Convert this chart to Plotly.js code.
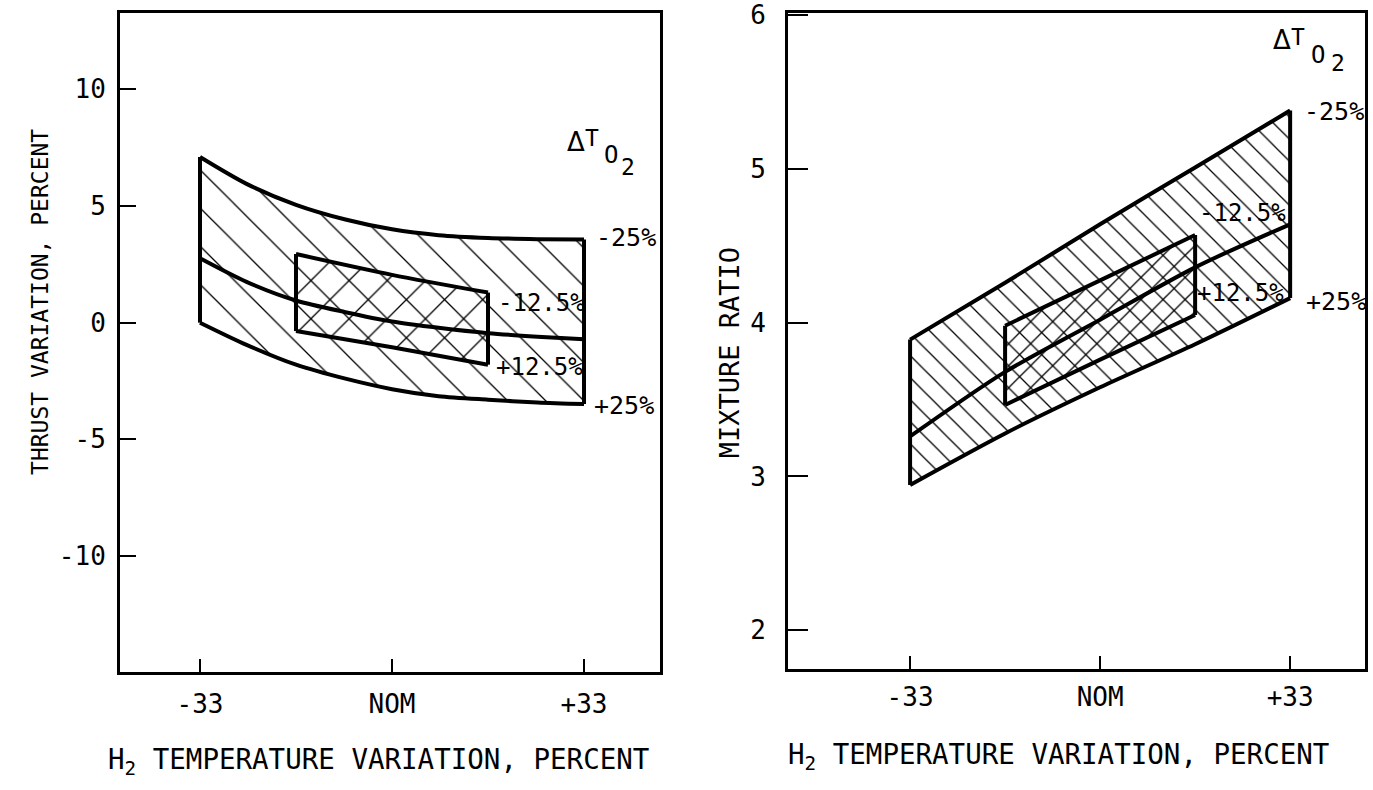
<!DOCTYPE html>
<html>
<head>
<meta charset="utf-8">
<script src="https://cdn.plot.ly/plotly-3.0.1.min.js"></script>
<style>html,body{margin:0;padding:0;background:#fff;}</style>
</head>
<body>
<div id="chart" style="width:1373px;height:790px;"></div>
<script>
// H2 temperature variation, percent (NOM = 0)
const h2Temp = [-33, -25, -16.5, -8, 0, 8, 16.5, 25, 33];
const h2TickVals = [-33, 0, 33];
const h2TickText = ['-33', 'NOM', '+33'];

// Thrust variation, percent, for O2 temperature variation of -25 %, nominal and +25 %
const thrustO2Minus25 = [7.1, 5.95, 5.05, 4.42, 4.0, 3.75, 3.63, 3.58, 3.56];
const thrustO2Nominal = [2.76, 1.75, 0.95, 0.45, 0.05, -0.22, -0.45, -0.6, -0.71];
const thrustO2Plus25 = [0.0, -0.95, -1.8, -2.4, -2.85, -3.15, -3.3, -3.42, -3.49];

// Inner region: H2 temperature within +/-16.5 %, O2 temperature within +/-12.5 %
const h2TempInner = [-16.5, 0, 16.5];
const thrustO2Minus12 = [2.94, 2.05, 1.29];
const thrustO2Plus12 = [-0.36, -1.05, -1.8];

// Mixture ratio
const h2TempMr = [-33, -16.5, 0, 16.5, 33];
const mrO2Minus25 = [3.89, 4.26, 4.64, 5.01, 5.38];
const mrO2Nominal = [3.26, 3.68, 4.02, 4.36, 4.64];
const mrO2Plus25 = [2.945, 3.28, 3.58, 3.86, 4.16];
const mrO2Minus12 = [3.98, 4.275, 4.57];
const mrO2Plus12 = [3.465, 3.76, 4.05];

const thrustTicks = [-10, -5, 0, 5, 10];
const mrTicks = [2, 3, 4, 5, 6];

const FONT = 'DejaVu Sans Mono, Liberation Mono, monospace';
const SYMBOL_FONT = 'DejaVu Sans, sans-serif';
const INK = '#000';
const LINE_W = 4;

// hatched area between two curves (outline drawn separately)
function hatch(x, upper, lower, xa, ya, shape, size) {
  const xr = x.slice().reverse();
  const lr = lower.slice().reverse();
  return {
    x: x.concat(xr, [x[0]]), y: upper.concat(lr, [upper[0]]),
    xaxis: xa, yaxis: ya, mode: 'lines', fill: 'toself',
    fillcolor: 'rgba(0,0,0,0)',
    fillpattern: {shape: shape, size: size, solidity: 1.3 / size, fgcolor: INK},
    line: {width: 0, color: 'rgba(0,0,0,0)'},
    hoverinfo: 'skip'
  };
}

function curve(x, y, xa, ya, smooth) {
  return {x: x, y: y, xaxis: xa, yaxis: ya, mode: 'lines',
    line: {color: INK, width: LINE_W, shape: smooth ? 'spline' : 'linear', smoothing: 0.8},
    hoverinfo: 'skip'};
}

// outline of a region: both curves plus the two end edges
function outline(x, upper, lower, xa, ya, smooth) {
  const n = x.length - 1;
  return [
    curve(x, upper, xa, ya, smooth),
    curve(x, lower, xa, ya, smooth),
    curve([x[0], x[0]], [upper[0], lower[0]], xa, ya, false),
    curve([x[n], x[n]], [upper[n], lower[n]], xa, ya, false)
  ];
}

const traces = [].concat(
  [hatch(h2Temp, thrustO2Minus25, thrustO2Plus25, 'x', 'y', '\\', 27),
   hatch(h2TempInner, thrustO2Minus12, thrustO2Plus12, 'x', 'y', '/', 27)],
  outline(h2Temp, thrustO2Minus25, thrustO2Plus25, 'x', 'y', true),
  outline(h2TempInner, thrustO2Minus12, thrustO2Plus12, 'x', 'y', true),
  [curve(h2Temp, thrustO2Nominal, 'x', 'y', true)],
  [hatch(h2TempMr, mrO2Minus25, mrO2Plus25, 'x2', 'y2', '\\', 15.6),
   hatch(h2TempInner, mrO2Minus12, mrO2Plus12, 'x2', 'y2', '/', 15.6)],
  outline(h2TempMr, mrO2Minus25, mrO2Plus25, 'x2', 'y2', true),
  outline(h2TempInner, mrO2Minus12, mrO2Plus12, 'x2', 'y2', true),
  [curve(h2TempMr, mrO2Nominal, 'x2', 'y2', true)]
);

const tickFont = {family: FONT, size: 26, color: INK};

function xAxis(domain, range, anchor, standoff) {
  return {
    domain: domain, range: range, anchor: anchor,
    tickvals: h2TickVals, ticktext: h2TickText,
    ticks: 'inside', ticklen: 13, tickwidth: 2, tickcolor: INK,
    tickfont: tickFont, ticklabelstandoff: standoff,
    showline: true, mirror: true, linewidth: 3, linecolor: INK,
    showgrid: false, zeroline: false, fixedrange: true
  };
}

function yAxis(domain, range, anchor, ticks, ticklen, standoff) {
  return {
    domain: domain, range: range, anchor: anchor,
    tickvals: ticks, ticktext: ticks.map(String),
    ticks: 'inside', ticklen: ticklen, tickwidth: 2, tickcolor: INK,
    tickfont: tickFont, ticklabelstandoff: standoff,
    showline: true, mirror: true, linewidth: 3, linecolor: INK,
    showgrid: false, zeroline: false, fixedrange: true
  };
}

function label(text, x, y, xa, ya, size, family) {
  return {
    text: text, x: x, y: y, xref: xa, yref: ya,
    xanchor: 'left', yanchor: 'middle', showarrow: false,
    font: {family: family || FONT, size: size || 25, color: INK},
    borderpad: 0
  };
}

function axisTitle(text, x, y, size, angle) {
  return {
    text: text, x: x, y: y, xref: 'paper', yref: 'paper',
    xanchor: 'center', yanchor: 'middle', showarrow: false,
    textangle: angle || 0,
    font: {family: FONT, size: size, color: INK}
  };
}

const annotations = [
  // axis titles
  axisTitle('H<sub>2</sub> TEMPERATURE VARIATION, PERCENT', 0.276, 0.036, 27.5),
  axisTitle('H<sub>2</sub> TEMPERATURE VARIATION, PERCENT', 0.7706, 0.042, 27.5),
  axisTitle('THRUST VARIATION, PERCENT', 0.0291, 0.6177, 23, -90),
  axisTitle('MIXTURE RATIO', 0.531, 0.553, 27, -90),
  // thrust chart: O2 temperature variation key
  label('\u0394', 29.9, 7.74, 'x', 'y', 26, SYMBOL_FONT),
  label('T', 33.0, 7.9, 'x', 'y', 23),
  label('O', 36.3, 7.19, 'x', 'y', 24),
  label('2', 39.2, 6.67, 'x', 'y', 23),
  label('-25%', 34.9, 3.67, 'x', 'y'),
  label('-12.5%', 18.0, 0.84, 'x', 'y', 24),
  label('+12.5%', 17.7, -1.9, 'x', 'y', 24),
  label('+25%', 34.5, -3.53, 'x', 'y'),
  // mixture ratio chart: O2 temperature variation key
  label('\u0394', 29.8, 5.838, 'x2', 'y2', 26, SYMBOL_FONT),
  label('T', 33.0, 5.86, 'x2', 'y2', 23),
  label('O', 36.4, 5.741, 'x2', 'y2', 24),
  label('2', 39.9, 5.689, 'x2', 'y2', 23),
  label('-25%', 35.2, 5.372, 'x2', 'y2'),
  label('-12.5%', 17.0, 4.713, 'x2', 'y2', 24),
  label('+12.5%', 16.6, 4.193, 'x2', 'y2', 24),
  label('+25%', 35.6, 4.135, 'x2', 'y2')
];

const layout = {
  width: 1373, height: 790,
  margin: {l: 0, r: 0, t: 0, b: 0},
  paper_bgcolor: '#fff', plot_bgcolor: '#fff',
  showlegend: false,
  font: {family: FONT, color: INK},
  xaxis: xAxis([120 / 1373, 660 / 1373], [-46.75, 46.06], 'y', 7),
  yaxis: yAxis([0.1497, 0.9832], [-14.96, 13.26], 'x', thrustTicks, 16, 6),
  xaxis2: xAxis([788 / 1373, 1365 / 1373], [-54.2, 46.0], 'y2', 3),
  yaxis2: yAxis([0.1528, 0.9839], [1.746, 6.016], 'x2', mrTicks, 20, 14),
  annotations: annotations
};

Plotly.newPlot('chart', traces, layout, {displayModeBar: false, staticPlot: true});
</script>
</body>
</html>
